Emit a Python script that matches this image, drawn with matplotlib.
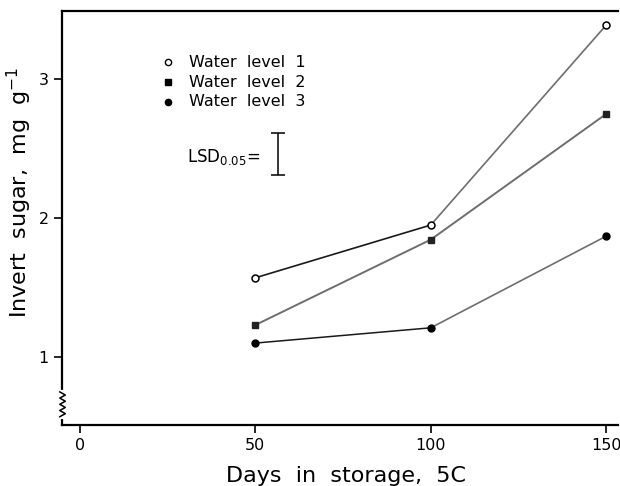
import numpy as np
import matplotlib
matplotlib.use("Agg")
from matplotlib import pyplot as plt

# values
days = [50, 100, 150]
level1 = [1.57, 1.95, 3.39]
level2 = [1.23, 1.845, 2.75]
level3 = [1.10, 1.21, 1.87]
labels = ['Water  level  1', 'Water  level  2', 'Water  level  3']
lsd_x = 56.5
lsd_lo, lsd_hi = 2.31, 2.61

plt.rcParams['font.family'] = 'DejaVu Sans'
fig = plt.figure(figsize=(6.2, 4.86), dpi=100)
ax = fig.add_axes([0.1, 0.1255, 0.897, 0.8515])

dark, grey = '#1a1a1a', '#6e6e6e'
# first segments of level 1 and 3 are darker in the print
ax.plot(days[:2], level1[:2], color=dark, lw=1.2)
ax.plot(days[1:], level1[1:], color=grey, lw=1.2)
ax.plot(days, level2, color=grey, lw=1.4)
ax.plot(days[:2], level3[:2], color=dark, lw=1.1)
ax.plot(days[1:], level3[1:], color=grey, lw=1.2)

ax.plot(days, level1, 'o', ms=5, mfc='white', mec='black', mew=1.1, zorder=3)
ax.plot(days, level2, 's', ms=5, mfc='#222222', mec='#222222', zorder=3)
ax.plot(days, level3, 'o', ms=5, mfc='black', mec='black', zorder=3)

# legend written as text like the original
leg_y = [0.877, 0.828, 0.781]
mk = [dict(marker='o', mfc='white', mec='black', ms=4.5, mew=1),
      dict(marker='s', mfc='black', mec='black', ms=4),
      dict(marker='o', mfc='black', mec='black', ms=4.5)]
for y, lab, m in zip(leg_y, labels, mk):
    ax.plot([0.19], [y], transform=ax.transAxes, ls='none', **m)
    ax.text(0.228, y, lab, transform=ax.transAxes, va='center', ha='left',
            fontsize=11.5)

ax.text(0.225, 0.647, 'LSD$_{0.05}$=', transform=ax.transAxes, va='center',
        ha='left', fontsize=12)
ax.errorbar([lsd_x], [(lsd_lo + lsd_hi) / 2], yerr=[(lsd_hi - lsd_lo) / 2],
            fmt='none', ecolor='black', capsize=5, elinewidth=1.1, capthick=1.1)

ax.set_xlim(-5.1, 153.4)
ax.set_ylim(0.51, 3.49)
ax.set_xticks([0, 50, 100, 150])
ax.set_yticks([1, 2, 3])
ax.tick_params(direction='out', length=6, width=1.2, labelsize=11.5)
ax.spines['right'].set_visible(False)
for s in ['left', 'bottom', 'top']:
    ax.spines[s].set_linewidth(1.6)

ax.set_xlabel('Days  in  storage,  5C', fontsize=16)
ax.xaxis.set_label_coords(0.511, -0.098)
ax.set_ylabel('Invert  sugar,  mg  g$^{-1}$', fontsize=16)
ax.yaxis.set_label_coords(-0.05, 0.563)

# axis break squiggle near the bottom of the y axis
t = np.linspace(0, 1, 9)
zx = np.where(np.arange(9) % 2 == 0, -0.004, 0.006)
zy = 0.02 + 0.06 * t
ax.plot([0, 0], [0.02, 0.08], color='white', lw=3, transform=ax.transAxes,
        clip_on=False, zorder=4)
ax.plot(zx, zy, color='black', lw=1.1, transform=ax.transAxes,
        clip_on=False, zorder=5)

fig.savefig('out.png', dpi=100)
